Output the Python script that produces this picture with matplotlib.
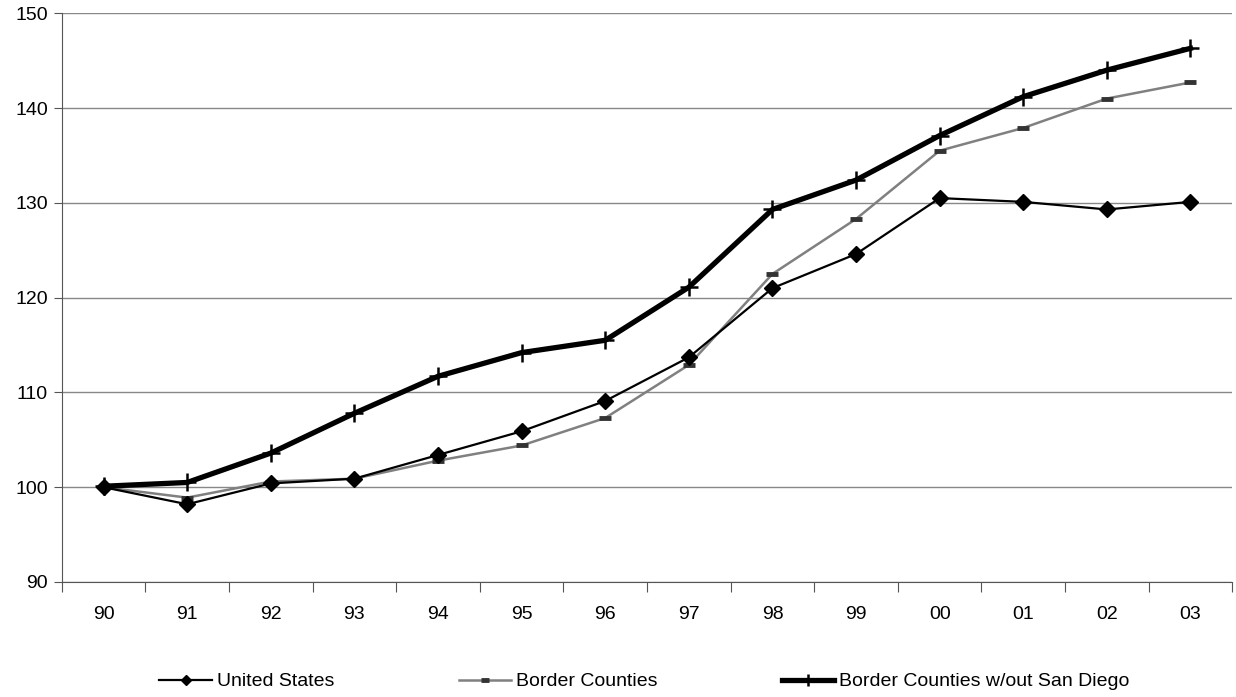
import numpy as np
import matplotlib.pyplot as plt

plt.rcParams['font.family'] = ['Liberation Sans', 'DejaVu Sans']

# Data
years = ['90', '91', '92', '93', '94', '95', '96', '97', '98', '99', '00', '01', '02', '03']
united_states = [100.0, 98.2, 100.4, 100.9, 103.4, 105.9, 109.1, 113.7, 121.0, 124.6, 130.5, 130.1, 129.3, 130.1]
border_counties = [100.0, 98.9, 100.6, 100.9, 102.8, 104.4, 107.3, 112.9, 122.5, 128.3, 135.5, 137.9, 141.0, 142.7]
border_no_sd = [100.1, 100.5, 103.6, 107.8, 111.7, 114.2, 115.5, 121.1, 129.3, 132.4, 137.1, 141.2, 144.0, 146.3]

x = np.arange(len(years))

fig = plt.figure(figsize=(12.36, 6.97), dpi=100)
ax = fig.add_axes([0.050, 0.165, 0.947, 0.816])

ax.plot(x, united_states, color='black', lw=1.6, marker='D', markersize=8.5,
        label='United States', zorder=3)
ax.plot(x, border_counties, color='#808080', lw=1.8, marker='_', markersize=8,
        markeredgewidth=3.5, markeredgecolor='#333333', label='Border Counties', zorder=2)
ax.plot(x, border_no_sd, color='black', lw=3.8, marker='+', markersize=13,
        markeredgewidth=1.8, label='Border Counties w/out San Diego', zorder=4)

ax.set_xlim(-0.5, len(years) - 0.5)
ax.set_ylim(90, 150)
ax.set_yticks(range(90, 151, 10))
ax.yaxis.grid(True, color='#888888', lw=1)
ax.set_axisbelow(True)

# ticks between categories, labels centred
ax.set_xticks(np.arange(-0.5, len(years), 1.0))
ax.set_xticklabels([])
ax.set_xticks(x, minor=True)
ax.set_xticklabels(years, minor=True)
ax.tick_params(axis='x', which='major', length=7, color='#555555', direction='out')
ax.tick_params(axis='x', which='minor', length=0, pad=17, labelsize=14)
ax.tick_params(axis='y', length=6, color='#555555', labelsize=14, pad=4)

for s in ['top', 'right']:
    ax.spines[s].set_visible(False)
ax.spines['left'].set_color('#555555')
ax.spines['bottom'].set_color('#555555')

fig.legend(loc='center left', bbox_to_anchor=(0.129, 0.022), ncol=3, frameon=False,
           fontsize=14, handlelength=2.7, handletextpad=0.25, columnspacing=6.4,
           markerscale=0.65, borderpad=0, borderaxespad=0)

plt.savefig('out.png', dpi=100)
